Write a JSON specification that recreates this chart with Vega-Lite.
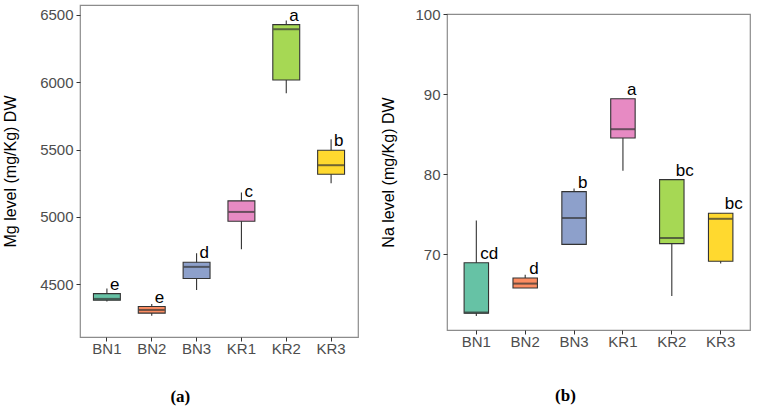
{
  "$schema": "https://vega.github.io/schema/vega-lite/v6.json",
  "padding": {"left": 2, "top": 4, "right": 4, "bottom": 0},
  "background": "white",
  "config": {
    "font": "Liberation Sans",
    "view": {"stroke": "#8c8c8c", "strokeWidth": 1.2},
    "axis": {
      "grid": false,
      "domain": false,
      "tickColor": "#333333",
      "tickSize": 4,
      "labelColor": "#4d4d4d",
      "labelFontSize": 15,
      "labelPadding": 3,
      "titleColor": "#000000",
      "titleFontSize": 16,
      "titleFontWeight": "normal"
    },
    "title": {"font": "Liberation Serif", "fontSize": 17, "fontWeight": "bold", "color": "#000000", "frame": "bounds", "anchor": "middle"}
  },
  "datasets": {
    "mg": [
      {"group": "BN1", "min": 4371, "q1": 4381, "median": 4391, "q3": 4430, "max": 4468, "letter": "e"},
      {"group": "BN2", "min": 4265, "q1": 4285, "median": 4309, "q3": 4334, "max": 4354, "letter": "e"},
      {"group": "BN3", "min": 4458, "q1": 4542, "median": 4629, "q3": 4663, "max": 4730, "letter": "d"},
      {"group": "KR1", "min": 4760, "q1": 4968, "median": 5037, "q3": 5119, "max": 5181, "letter": "c"},
      {"group": "KR2", "min": 5918, "q1": 6017, "median": 6394, "q3": 6428, "max": 6458, "letter": "a"},
      {"group": "KR3", "min": 5250, "q1": 5317, "median": 5384, "q3": 5495, "max": 5577, "letter": "b"}
    ],
    "na": [
      {"group": "BN1", "min": 62.25, "q1": 62.6, "median": 62.7, "q3": 68.9, "max": 74.2, "letter": "cd"},
      {"group": "BN2", "min": 65.75, "q1": 65.75, "median": 66.3, "q3": 67.0, "max": 67.4, "letter": "d"},
      {"group": "BN3", "min": 71.2, "q1": 71.2, "median": 74.5, "q3": 77.8, "max": 78.2, "letter": "b"},
      {"group": "KR1", "min": 80.4, "q1": 84.5, "median": 85.6, "q3": 89.4, "max": 89.4, "letter": "a"},
      {"group": "KR2", "min": 64.75, "q1": 71.3, "median": 72.0, "q3": 79.3, "max": 79.3, "letter": "bc"},
      {"group": "KR3", "min": 68.8, "q1": 69.1, "median": 74.4, "q3": 75.1, "max": 75.1, "letter": "bc"}
    ],
    "blank": [{"group": "BN1"}]
  },
  "spacing": 21,
  "hconcat": [
    {
      "width": 278,
      "height": 332,
      "data": {"name": "mg"},
      "title": {"text": "(a)", "orient": "bottom", "offset": 33},
      "encoding": {
        "x": {"field": "group", "type": "nominal", "sort": null,
              "scale": {"paddingInner": 0, "paddingOuter": 0.1},
              "axis": {"title": null, "labelAngle": 0, "labelPadding": 0}}
      },
      "layer": [
        {"mark": {"type": "rule", "color": "#333333", "strokeWidth": 1.1},
         "encoding": {
           "y": {"field": "min", "type": "quantitative",
                 "scale": {"domain": [4108, 6574], "nice": false, "zero": false},
                 "axis": {"title": "Mg level (mg/Kg) DW", "values": [4500, 5000, 5500, 6000, 6500], "format": "d", "titlePadding": 21}},
           "y2": {"field": "max"}}},
        {"mark": {"type": "bar", "width": {"band": 0.6}, "stroke": "#333333", "strokeWidth": 1.1},
         "encoding": {
           "y": {"field": "q1", "type": "quantitative"},
           "y2": {"field": "q3"},
           "color": {"field": "group", "type": "nominal", "legend": null,
                     "scale": {"domain": ["BN1", "BN2", "BN3", "KR1", "KR2", "KR3"],
                               "range": ["#66c2a5", "#fc8d62", "#8da0cb", "#e78ac3", "#a6d854", "#ffd92f"]}}}},
        {"mark": {"type": "tick", "size": 26, "thickness": 2, "color": "#333333"},
         "encoding": {"y": {"field": "median", "type": "quantitative"}}},
        {"mark": {"type": "text", "align": "left", "baseline": "middle", "dx": 3, "dy": -9, "fontSize": 17, "color": "#000000"},
         "encoding": {"y": {"field": "q3", "type": "quantitative"}, "text": {"field": "letter"}}}
      ]
    },
    {
      "spacing": 0,
      "vconcat": [
        {
          "width": 303,
          "height": 1,
          "data": {"name": "blank"},
          "view": {"stroke": null},
          "mark": {"type": "point", "opacity": 0, "size": 0},
          "encoding": {}
        },
        {
          "width": 303,
          "height": 316,
          "data": {"name": "na"},
          "title": {"text": "(b)", "orient": "bottom", "offset": 39},
          "encoding": {
            "x": {"field": "group", "type": "nominal", "sort": null,
                  "scale": {"paddingInner": 0, "paddingOuter": 0.1},
                  "axis": {"title": null, "labelAngle": 0, "labelPadding": 0}}
          },
          "layer": [
            {"mark": {"type": "rule", "color": "#333333", "strokeWidth": 1.1},
             "encoding": {
               "y": {"field": "min", "type": "quantitative",
                     "scale": {"domain": [60.5, 100], "nice": false, "zero": false},
                     "axis": {"title": "Na level (mg/Kg) DW", "values": [70, 80, 90, 100], "format": "d", "titlePadding": 18}},
               "y2": {"field": "max"}}},
            {"mark": {"type": "bar", "width": {"band": 0.5}, "stroke": "#333333", "strokeWidth": 1.1},
             "encoding": {
               "y": {"field": "q1", "type": "quantitative"},
               "y2": {"field": "q3"},
               "color": {"field": "group", "type": "nominal", "legend": null,
                         "scale": {"domain": ["BN1", "BN2", "BN3", "KR1", "KR2", "KR3"],
                                   "range": ["#66c2a5", "#fc8d62", "#8da0cb", "#e78ac3", "#a6d854", "#ffd92f"]}}}},
            {"mark": {"type": "tick", "size": 24, "thickness": 2, "color": "#333333"},
             "encoding": {"y": {"field": "median", "type": "quantitative"}}},
            {"mark": {"type": "text", "align": "left", "baseline": "middle", "dx": 4, "dy": -9, "fontSize": 17, "color": "#000000"},
             "encoding": {"y": {"field": "q3", "type": "quantitative"}, "text": {"field": "letter"}}}
          ]
        }
      ]
    }
  ]
}
